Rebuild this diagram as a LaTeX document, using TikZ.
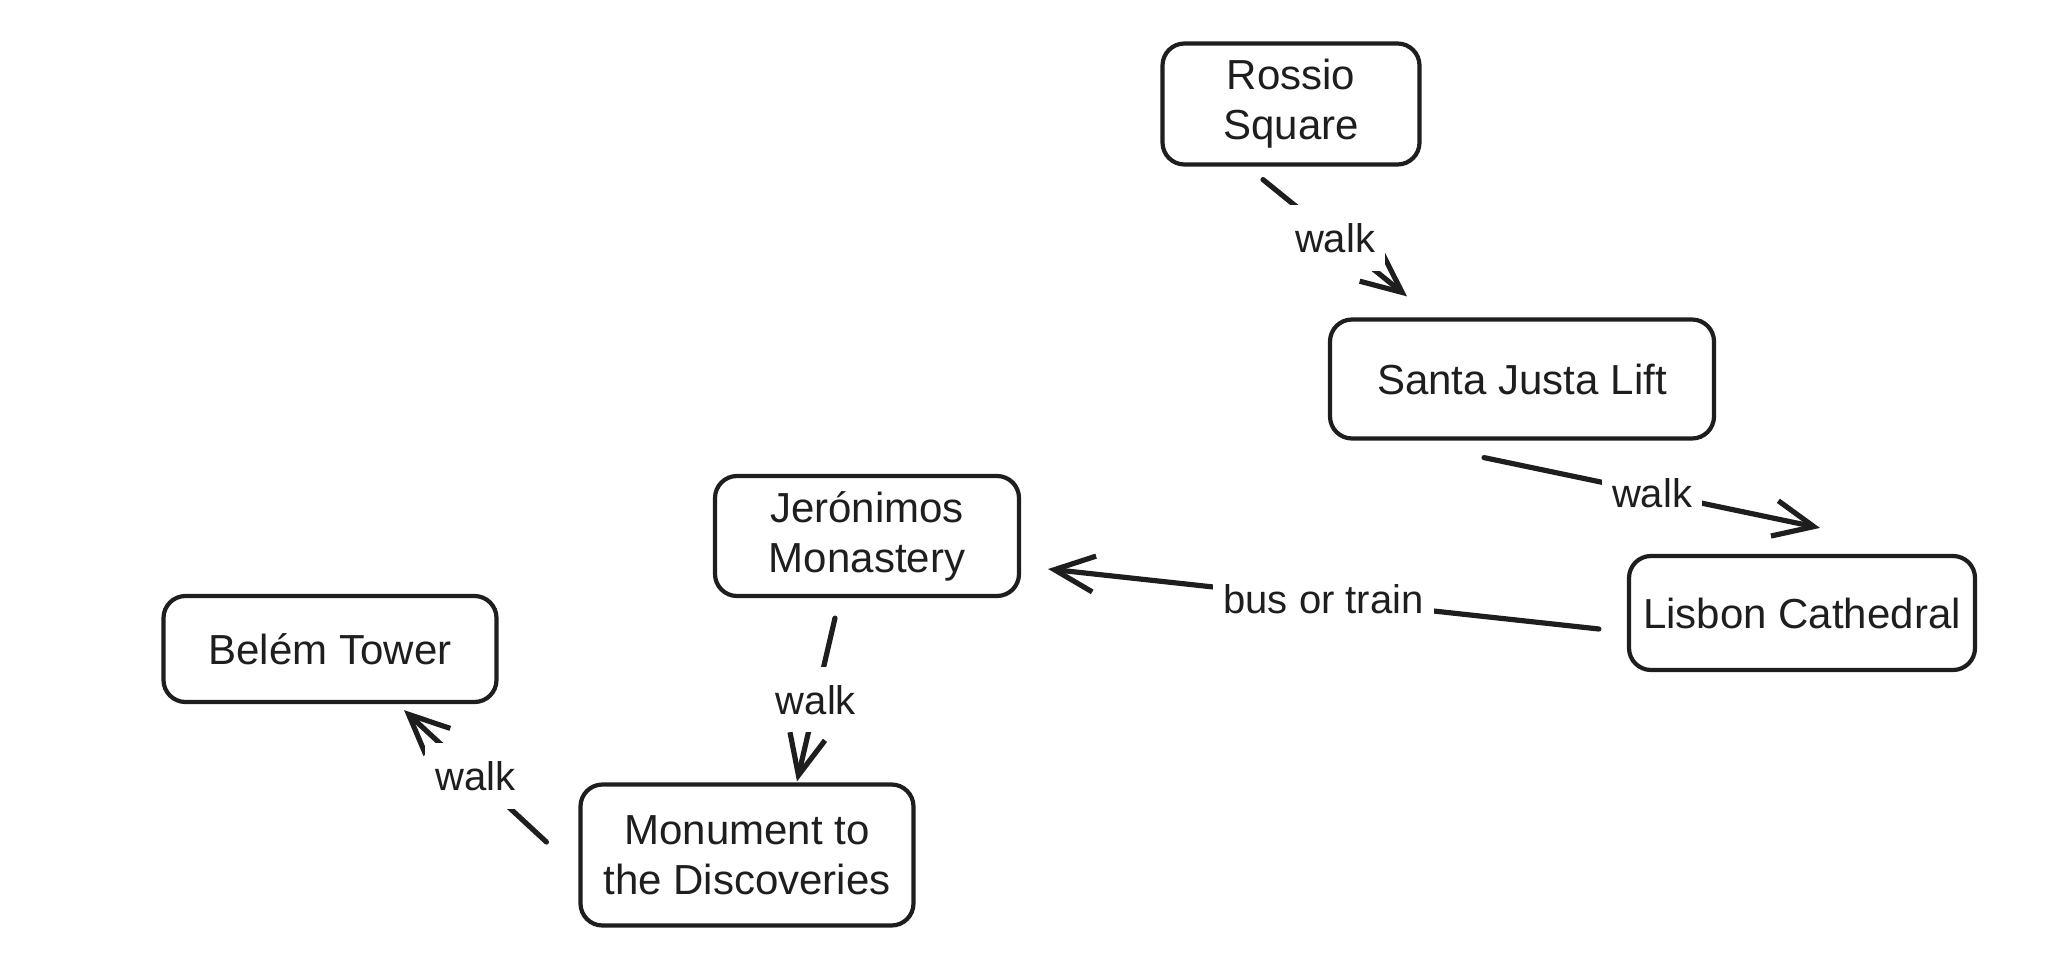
\documentclass[tikz,border=0pt]{standalone}
\usepackage{fontspec}
\setmainfont{Liberation Sans}
\usetikzlibrary{arrows.meta}
\definecolor{ink}{HTML}{1E1E1E}
\begin{document}
\begin{tikzpicture}[x=0.5pt,y=-0.5pt,
  place/.style={draw=ink, line width=2.1pt, rounded corners=11pt, text=ink,
    font=\fontsize{21}{25}\selectfont, align=center, inner sep=0pt},
  link/.style={draw=ink, line width=2.6pt, line cap=round,
    -{Straight Barb[length=20pt,width=18pt,line width=2.6pt]}},
  lbl/.style={fill=white, text=ink, font=\fontsize{20}{24}\selectfont,
    inner xsep=5pt, inner ysep=9pt}
]
\useasboundingbox (0,0) rectangle (2046,974);

\node[place, minimum width=128.5pt, minimum height=60.5pt] (rossio) at (1291,104) {Rossio\\Square};
\node[place, minimum width=192pt, minimum height=59.5pt] (santa) at (1522,379) {Santa Justa Lift};
\node[place, minimum width=173pt, minimum height=57pt] (cath) at (1802,613) {Lisbon Cathedral};
\node[place, minimum width=152pt, minimum height=60pt] (jero) at (867,536) {Jerónimos\\Monastery};
\node[place, minimum width=166.5pt, minimum height=53pt] (belem) at (330,649) {Belém Tower};
\node[place, minimum width=166.5pt, minimum height=70.5pt] (monu) at (747,855) {Monument to\\the Discoveries};

\draw[link] ([shift={(-28,13)}]rossio.south) -- node[lbl] {walk} ([shift={(-115,-21)}]santa.north);
\draw[link] ([shift={(-38,17)}]santa.south) -- node[lbl] {walk} ([shift={(18,-26)}]cath.north);
\draw[link] ([shift={(-28,16)}]cath.west) -- node[lbl] {bus or train} ([shift={(27,33)}]jero.east);
\draw[link] ([shift={(-32,20)}]jero.south) -- node[lbl] {walk} ([shift={(50,-1)}]monu.north);
\draw[link] ([shift={(-32,-13)}]monu.west) -- node[lbl] {walk} ([shift={(74,6)}]belem.south);
\end{tikzpicture}
\end{document}
